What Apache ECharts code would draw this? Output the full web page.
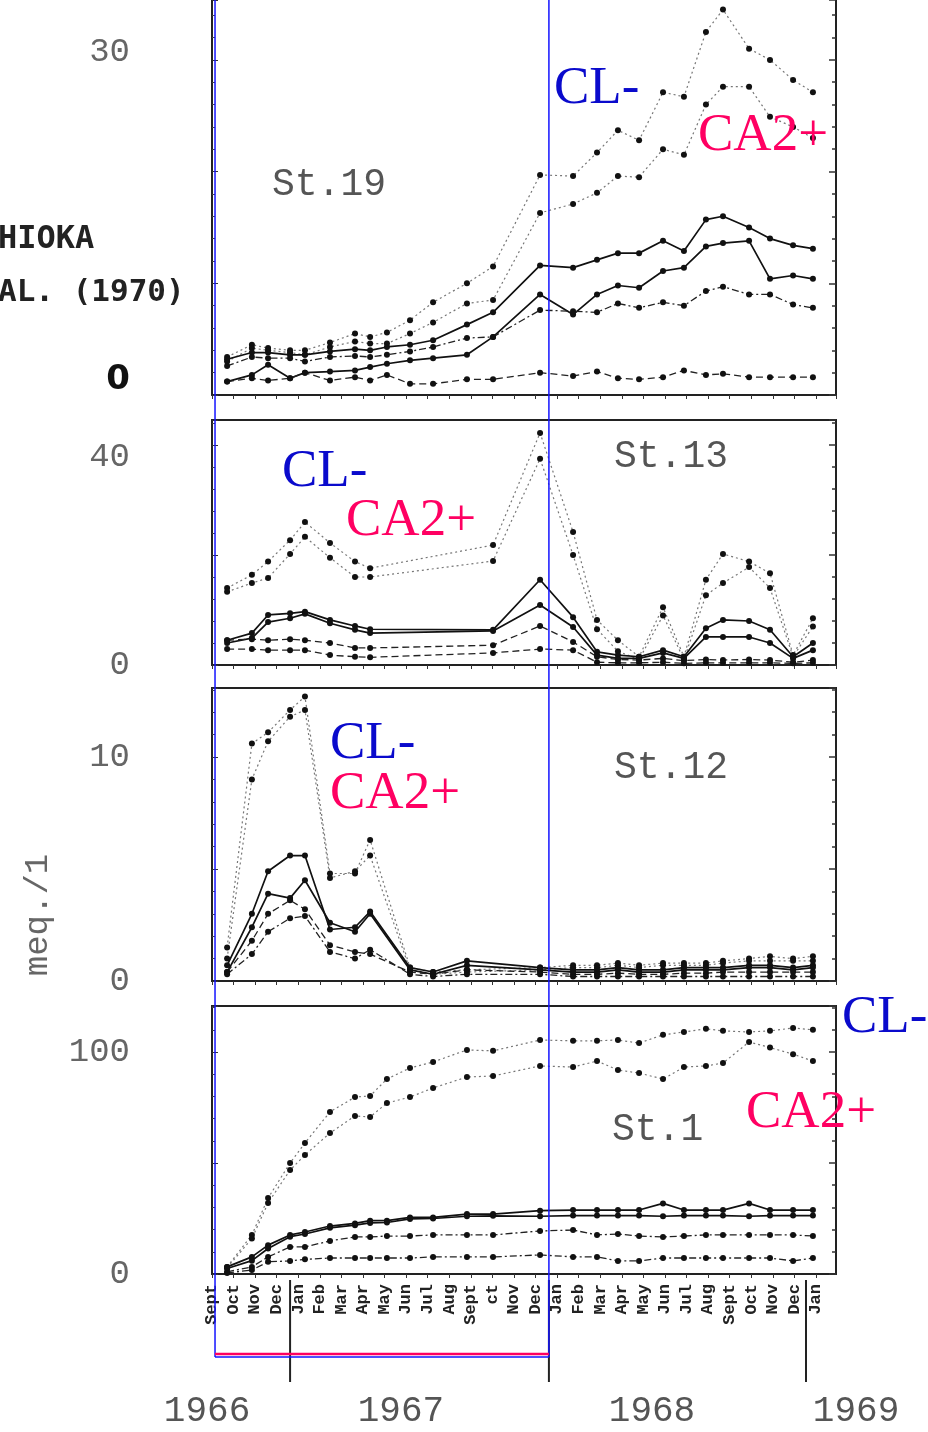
<!DOCTYPE html>
<html>
<head>
<meta charset="utf-8">
<script src="https://cdn.jsdelivr.net/npm/echarts@6/dist/echarts.min.js"></script>
<style>
html, body { margin: 0; padding: 0; background: #fff; }
#chart { width: 928px; height: 1432px; }
</style>
</head>
<body>
<div id="chart"></div>
<script>
// month ticks, Sept 1966 .. Jan 1969
var monthLabels = ['Sept', 'Oct', 'Nov', 'Dec', 'Jan', 'Feb', 'Mar', 'Apr', 'May', 'Jun', 'Jul', 'Aug',
    'Sept', 'ct', 'Nov', 'Dec', 'Jan', 'Feb', 'Mar', 'Apr', 'May', 'Jun', 'Jul', 'Aug', 'Sept', 'Oct', 'Nov', 'Dec', 'Jan'];
var yearLabels = ['1966', '1967', '1968', '1969'];
var yearLabelMonths = [-0.23, 8.76, 20.4, 29.86];
var yearBreakMonths = [3.62, 15.62, 27.54];
var highlightMonths = [0.14, 15.62];

// sampling dates, in months after Sept 1966
var sampleMonths = [0.70, 1.85, 2.60, 3.62, 4.31, 5.47, 6.63, 7.33, 8.11, 9.18, 10.25, 11.82, 13.03,
    15.21, 16.74, 17.85, 18.82, 19.80, 20.91, 21.88, 22.90, 23.69, 24.90, 25.87, 26.94, 27.86];

// St.19
var st19Cl = [3.4, 4.5, 4.2, 4.0, 4.0, 4.7, 5.5, 5.2, 5.6, 6.7, 8.3, 10.0, 11.5, 19.7, 19.6, 21.7, 23.7, 22.8, 27.1, 26.7, 32.5, 34.5, 31.0, 30.0, 28.2, 27.1];
var st19Ca = [3.0, 4.2, 4.0, 3.8, 3.6, 4.3, 4.8, 4.6, 4.6, 5.5, 6.5, 8.2, 8.5, 16.3, 17.1, 18.1, 19.6, 19.5, 22.0, 21.5, 26.0, 27.6, 27.6, 24.9, 24.0, 23.0];
var st19SolidA = [3.2, 3.8, 3.8, 3.6, 3.6, 3.9, 4.1, 4.0, 4.3, 4.5, 4.9, 6.3, 7.4, 11.6, 11.4, 12.1, 12.7, 12.7, 13.8, 12.9, 15.7, 16.0, 15.0, 14.0, 13.4, 13.1];
var st19SolidB = [1.2, 1.8, 2.7, 1.5, 2.0, 2.1, 2.2, 2.5, 2.8, 3.1, 3.3, 3.6, 5.2, 9.0, 7.2, 9.0, 9.8, 9.6, 11.1, 11.4, 13.3, 13.6, 13.8, 10.4, 10.7, 10.4];
var st19DashA = [2.6, 3.4, 3.3, 3.3, 3.0, 3.4, 3.5, 3.4, 3.6, 3.9, 4.3, 5.1, 5.2, 7.6, 7.5, 7.4, 8.2, 7.8, 8.3, 8.0, 9.3, 9.7, 9.0, 9.0, 8.1, 7.8];
var st19DashB = [1.2, 1.5, 1.3, 1.5, 2.0, 1.3, 1.6, 1.3, 1.8, 1.0, 1.0, 1.4, 1.4, 2.0, 1.7, 2.1, 1.5, 1.4, 1.6, 2.2, 1.8, 1.9, 1.6, 1.6, 1.6, 1.6];

// St.13
var st13Cl = [14.0, 16.4, 18.8, 22.7, 26.0, 22.2, 18.8, 17.6, null, null, null, null, 21.8, 42.2, 24.2, 8.2, 4.5, 1.5, 10.5, 1.5, 15.5, 20.2, 18.8, 16.7, 1.8, 8.5];
var st13Ca = [13.3, 14.9, 15.8, 20.2, 23.3, 19.5, 16.0, 16.0, null, null, null, null, 18.9, 37.5, 20.0, 6.5, 2.5, 1.0, 9.0, 1.0, 12.7, 14.9, 17.8, 14.0, 1.5, 7.0];
var st13SolidA = [4.5, 5.8, 9.1, 9.4, 9.7, 8.2, 7.1, 6.5, null, null, null, null, 6.4, 15.5, 8.7, 2.4, 1.8, 1.5, 2.7, 1.5, 6.7, 8.2, 8.0, 6.4, 1.5, 4.0];
var st13SolidB = [4.0, 4.9, 7.8, 8.5, 9.3, 7.6, 6.4, 5.8, null, null, null, null, 6.2, 10.9, 6.9, 1.8, 1.2, 1.2, 2.2, 1.2, 5.1, 5.1, 5.1, 4.0, 1.2, 2.7];
var st13DashA = [4.5, 4.7, 4.5, 4.7, 4.5, 4.0, 3.1, 3.1, null, null, null, null, 3.6, 7.1, 4.2, 1.5, 1.0, 0.9, 1.2, 0.8, 1.0, 0.9, 1.0, 0.9, 0.5, 0.9];
var st13DashB = [2.9, 2.9, 2.7, 2.7, 2.7, 1.8, 1.5, 1.4, null, null, null, null, 2.2, 2.9, 2.7, 0.5, 0.4, 0.4, 0.5, 0.3, 0.4, 0.4, 0.4, 0.4, 0.3, 0.4];

// St.12
var st12Cl = [1.5, 10.6, 11.1, 12.1, 12.7, 4.8, 4.8, 6.3, null, 0.6, 0.4, 0.5, null, 0.6, 0.7, 0.7, 0.8, 0.7, 0.8, 0.8, 0.8, 0.9, 1.0, 1.1, 1.0, 1.1];
var st12Ca = [1.0, 9.0, 10.7, 11.8, 12.1, 4.6, 4.9, 5.6, null, 0.5, 0.3, 0.4, null, 0.5, 0.6, 0.6, 0.7, 0.6, 0.7, 0.7, 0.7, 0.8, 0.9, 0.9, 0.9, 0.9];
var st12SolidA = [0.7, 3.0, 4.9, 5.6, 5.6, 2.3, 2.4, 3.1, null, 0.6, 0.4, 0.9, null, 0.6, 0.5, 0.5, 0.6, 0.5, 0.5, 0.6, 0.6, 0.6, 0.7, 0.7, 0.6, 0.7];
var st12SolidB = [0.4, 2.4, 3.9, 3.7, 4.5, 2.6, 2.2, 3.0, null, 0.5, 0.3, 0.7, null, 0.5, 0.4, 0.4, 0.5, 0.4, 0.4, 0.5, 0.5, 0.5, 0.6, 0.6, 0.5, 0.6];
var st12DashA = [0.4, 1.8, 3.0, 3.6, 3.2, 1.6, 1.3, 1.2, null, 0.4, 0.3, 0.5, null, 0.4, 0.3, 0.3, 0.35, 0.3, 0.3, 0.35, 0.35, 0.4, 0.4, 0.4, 0.4, 0.4];
var st12DashB = [0.3, 1.2, 2.2, 2.8, 2.9, 1.3, 1.0, 1.4, null, 0.3, 0.2, 0.3, null, 0.3, 0.2, 0.2, 0.2, 0.2, 0.2, 0.2, 0.2, 0.2, 0.2, 0.2, 0.2, 0.2];

// St.1
var st1Cl = [3.2, 17.6, 34.2, 50.0, 59.0, 73.0, 79.7, 80.2, 87.8, 92.8, 95.5, 100.9, 100.5, 105.4, 105.0, 105.0, 105.4, 104.0, 107.7, 109.0, 110.4, 109.5, 109.0, 109.5, 110.8, 110.0];
var st1Ca = [2.8, 16.0, 32.0, 46.8, 53.6, 63.5, 71.2, 70.7, 77.0, 79.7, 83.8, 88.7, 89.2, 93.7, 93.2, 95.9, 91.9, 90.5, 87.8, 93.2, 93.7, 95.0, 104.5, 102.0, 99.0, 95.9];
var st1SolidA = [3.2, 7.7, 13.0, 17.6, 18.9, 21.6, 22.8, 24.0, 24.0, 25.5, 25.5, 27.0, 27.0, 28.5, 28.8, 28.8, 28.8, 28.8, 31.8, 28.8, 28.8, 28.8, 31.8, 28.8, 28.8, 28.8];
var st1SolidB = [2.5, 6.0, 11.5, 16.8, 18.0, 20.8, 22.0, 23.0, 23.2, 24.8, 25.0, 26.0, 26.2, 26.0, 26.3, 26.3, 26.3, 26.3, 26.0, 26.3, 26.3, 26.3, 26.0, 26.3, 26.3, 26.3];
var st1DashA = [1.0, 3.2, 7.7, 12.2, 12.2, 14.9, 16.7, 16.7, 17.1, 17.1, 17.6, 17.6, 17.6, 19.4, 19.8, 17.6, 18.0, 17.1, 16.7, 17.1, 17.6, 17.6, 17.6, 17.6, 17.6, 17.1];
var st1DashB = [0.5, 1.8, 5.5, 5.9, 6.6, 7.2, 7.2, 7.2, 7.2, 7.2, 7.7, 7.7, 7.7, 8.6, 7.7, 7.7, 5.9, 5.9, 7.2, 7.2, 7.2, 7.2, 7.2, 7.2, 5.9, 7.2];

var lineStyles = {
    dot: { type: [2, 3], width: 1.2, color: '#777' },
    solid: { type: 'solid', width: 1.7, color: '#111' },
    dash: { type: [7, 4], width: 1.3, color: '#222' },
    dashdot: { type: [7, 3, 2, 3], width: 1.3, color: '#222' }
};

// top panel runs off the top of the picture: no top border
var panels = [
    { top: 0, height: 395, max: 35.36, interval: 10, open: true, labels: { 30: '{up|30}', 0: '{zero|0}' },
      series: [[st19Cl, 'dot'], [st19Ca, 'dot'], [st19SolidA, 'solid'], [st19SolidB, 'solid'], [st19DashA, 'dashdot'], [st19DashB, 'dash']] },
    { top: 420, height: 245, max: 44.55, interval: 20, labels: { 40: '{down|40}', 0: '0' },
      series: [[st13Cl, 'dot'], [st13Ca, 'dot'], [st13SolidA, 'solid'], [st13SolidB, 'solid'], [st13DashA, 'dash'], [st13DashB, 'dash']] },
    { top: 688, height: 293, max: 13.08, interval: 5, labels: { 10: '10', 0: '0' },
      series: [[st12Cl, 'dot'], [st12Ca, 'dot'], [st12SolidA, 'solid'], [st12SolidB, 'solid'], [st12DashA, 'dash'], [st12DashB, 'dashdot']] },
    { top: 1006, height: 268, max: 120.7, interval: 50, labels: { 100: '100', 0: '0' },
      series: [[st1Cl, 'dot'], [st1Ca, 'dot'], [st1SolidA, 'solid'], [st1SolidB, 'solid'], [st1DashA, 'dashdot'], [st1DashB, 'dashdot']] }
];
var seriesNames = ['CL-', 'CA2+', 'ion 3', 'ion 4', 'ion 5', 'ion 6'];

var mono = '"Liberation Mono", "DejaVu Sans Mono", monospace';
var serif = '"Liberation Serif", "DejaVu Serif", serif';
var frame = { show: true, lineStyle: { color: '#222', width: 2 } };

var chart = echarts.init(document.getElementById('chart'));

var grids = [], xAxes = [], yAxes = [], series = [];
panels.forEach(function (p, i) {
    grids.push({ left: 212, width: 624, top: p.top, height: p.height, show: !p.open,
        borderColor: '#222', borderWidth: 2, backgroundColor: 'transparent' });
    xAxes.push({
        type: 'value', gridIndex: i, min: 0, max: 28.93, interval: 1,
        axisLine: p.open ? frame : { show: false }, splitLine: { show: false },
        axisTick: { show: true, length: 4, lineStyle: { color: '#333', width: 1 } },
        axisLabel: i === 3 ? {
            show: true, rotate: 90, margin: 10, showMaxLabel: false,
            fontFamily: mono, fontWeight: 'bold', fontSize: 17, color: '#222',
            formatter: function (v) { return Number.isInteger(v) ? monthLabels[v] : ''; }
        } : { show: false }
    });
    yAxes.push({
        type: 'value', gridIndex: i, position: 'left', min: 0, max: p.max, interval: p.interval,
        axisLine: p.open ? frame : { show: false }, splitLine: { show: false },
        axisTick: { show: true, inside: true, length: 6, lineStyle: { color: '#333' } },
        minorTick: { show: true, splitNumber: 5, length: 3, lineStyle: { color: '#444' } },
        axisLabel: {
            show: true, margin: 82, align: 'right', showMaxLabel: false,
            fontFamily: mono, fontSize: 34, color: '#666',
            formatter: function (v) { return p.labels[v] || ''; },
            rich: {
                zero: { fontFamily: '"DejaVu Sans", sans-serif', fontWeight: 'bold', fontSize: 34, color: '#111', padding: [0, 0, 30, 0] },
                up: { fontFamily: mono, fontSize: 34, color: '#666', padding: [0, 0, 16, 0] },
                down: { fontFamily: mono, fontSize: 34, color: '#666', padding: [24, 0, 0, 0] }
            }
        }
    });
    yAxes.push({
        type: 'value', gridIndex: i, position: 'right', min: 0, max: p.max, interval: p.interval,
        axisLine: p.open ? frame : { show: false }, splitLine: { show: false }, axisLabel: { show: false },
        axisTick: { show: true, inside: true, length: 7, lineStyle: { color: '#333', width: 1.5 } },
        minorTick: { show: true, splitNumber: 5, length: 4, lineStyle: { color: '#333', width: 1.5 } }
    });
    p.series.forEach(function (s, k) {
        series.push({
            name: seriesNames[k], type: 'line', xAxisIndex: i, yAxisIndex: i * 2,
            data: sampleMonths.map(function (m, j) { return [m, s[0][j]]; }),
            connectNulls: true, symbol: 'circle', symbolSize: 6,
            itemStyle: { color: '#111' },
            lineStyle: lineStyles[s[1]],
            z: s[1] === 'dot' ? 3 : 4
        });
    });
});

chart.setOption({
    animation: false,
    backgroundColor: '#fff',
    grid: grids, xAxis: xAxes, yAxis: yAxes, series: series
});

// overlays, placed through the bottom panel's x scale
function px(m) { return chart.convertToPixel({ xAxisIndex: 3 }, m); }
function txt(text, x, y, font, fill, align, extra) {
    var el = { type: 'text', z: 100, style: { text: text, x: x, y: y, font: font, fill: fill,
        textAlign: align || 'left', textVerticalAlign: 'middle', align: align || 'left', verticalAlign: 'middle' } };
    if (extra) { for (var key in extra) el[key] = extra[key]; }
    return el;
}
var graphics = [];
yearBreakMonths.forEach(function (m) {
    var x = px(m);
    graphics.push({ type: 'line', z: 90, shape: { x1: x, y1: 1280, x2: x, y2: 1382 }, style: { stroke: '#222', lineWidth: 2 } });
});
yearLabels.forEach(function (t, i) {
    graphics.push(txt(t, px(yearLabelMonths[i]), 1411, '36px ' + mono, '#555', 'center'));
});
var hx0 = px(highlightMonths[0]), hx1 = px(highlightMonths[1]);
graphics.push({ type: 'line', z: 110, shape: { x1: hx0, y1: 0, x2: hx0, y2: 1357 }, style: { stroke: '#1414ff', lineWidth: 1.5 } });
graphics.push({ type: 'line', z: 110, shape: { x1: hx1, y1: 0, x2: hx1, y2: 1357 }, style: { stroke: '#1414ff', lineWidth: 1.5 } });
graphics.push({ type: 'line', z: 110, shape: { x1: hx0, y1: 1357, x2: hx1, y2: 1357 }, style: { stroke: '#1414ff', lineWidth: 1.5 } });
graphics.push({ type: 'line', z: 111, shape: { x1: hx0, y1: 1354, x2: hx1, y2: 1354 }, style: { stroke: '#ff0060', lineWidth: 2.5 } });

var big = '53px ' + serif;
var blue = '#0a0acc', pink = '#ff0062';
graphics.push(txt('CL-', 554, 89, big, blue));
graphics.push(txt('CA2+', 698, 136, big, pink));
graphics.push(txt('CL-', 282, 472, big, blue));
graphics.push(txt('CA2+', 346, 521, big, pink));
graphics.push(txt('CL-', 330, 744, big, blue));
graphics.push(txt('CA2+', 330, 794, big, pink));
graphics.push(txt('CL-', 842, 1018, big, blue));
graphics.push(txt('CA2+', 746, 1113, big, pink));

var stFont = '38px ' + mono;
graphics.push(txt('St.19', 272, 185, stFont, '#555'));
graphics.push(txt('St.13', 614, 457, stFont, '#555'));
graphics.push(txt('St.12', 614, 768, stFont, '#555'));
graphics.push(txt('St.1', 612, 1130, stFont, '#555'));

graphics.push(txt('HIOKA', -2, 240, 'bold 32px "DejaVu Sans Mono", monospace', '#222'));
graphics.push(txt('AL. (1970)', -2, 293, 'bold 31px "DejaVu Sans Mono", monospace', '#222'));
graphics.push(txt('meq./1', 0, 0, '34px ' + mono, '#666', 'center', { x: 38, y: 915, rotation: Math.PI / 2 }));

chart.setOption({ graphic: graphics });
</script>
</body>
</html>
